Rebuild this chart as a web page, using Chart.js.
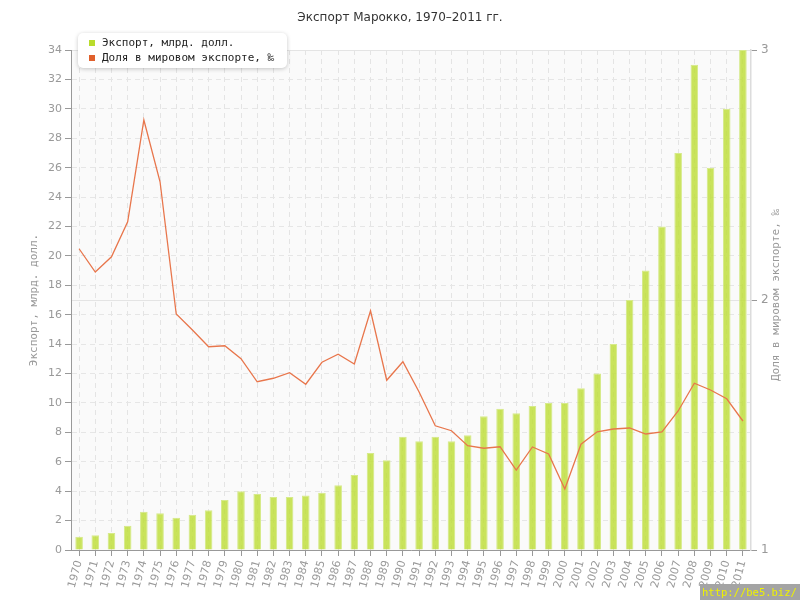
<!DOCTYPE html>
<html>
<head>
<meta charset="utf-8">
<script src="https://cdn.jsdelivr.net/npm/chart.js@4/dist/chart.umd.min.js"></script>
<style>
  html, body { margin: 0; padding: 0; background: #fff; }
  #wrap { width: 800px; height: 600px; }
</style>
</head>
<body>
<div id="wrap"><canvas id="exportChart"></canvas></div>
<script>
// Years on the x axis
const years = ["1970","1971","1972","1973","1974","1975","1976","1977","1978","1979",
  "1980","1981","1982","1983","1984","1985","1986","1987","1988","1989",
  "1990","1991","1992","1993","1994","1995","1996","1997","1998","1999",
  "2000","2001","2002","2003","2004","2005","2006","2007","2008","2009",
  "2010","2011"];

// Export, bn USD (left axis)
const exportValues = [0.9, 1.0, 1.15, 1.65, 2.6, 2.5, 2.2, 2.4, 2.7, 3.4,
  4.0, 3.8, 3.6, 3.6, 3.7, 3.9, 4.4, 5.1, 6.6, 6.1,
  7.7, 7.4, 7.7, 7.4, 7.8, 9.1, 9.6, 9.3, 9.8, 10.0,
  10.0, 11.0, 12.0, 14.0, 17.0, 19.0, 22.0, 27.0, 33.0, 26.0,
  30.0, 34.0];

// Share of world export, per mille (right axis)
const worldShare = [2.205, 2.112, 2.173, 2.313, 2.72, 2.473, 1.944, 1.88, 1.813, 1.817,
  1.765, 1.673, 1.687, 1.709, 1.663, 1.751, 1.783, 1.744, 1.957, 1.679,
  1.753, 1.632, 1.497, 1.477, 1.417, 1.407, 1.413, 1.32, 1.412, 1.384,
  1.244, 1.423, 1.473, 1.484, 1.488, 1.464, 1.472, 1.556, 1.667, 1.64,
  1.605, 1.516];

const titleText = "Экспорт Марокко, 1970–2011 гг.";
const exportLabel = "Экспорт, млрд. долл.";
const shareLabel = "Доля в мировом экспорте, ‰";

const greenFill = "rgba(192, 222, 62, 0.85)";
const greenEdge = "#d6ea8a";
const orangeLine = "#e8764c";

Chart.defaults.font.family = "'DejaVu Sans', Verdana, sans-serif";
Chart.defaults.font.size = 11;
Chart.defaults.color = "#999";

// light grey plot area
const plotBackground = {
  id: "plotBackground",
  beforeDraw(chart) {
    const { ctx, chartArea } = chart;
    ctx.save();
    ctx.fillStyle = "#fafafa";
    ctx.fillRect(chartArea.left, chartArea.top, chartArea.right - chartArea.left, chartArea.bottom - chartArea.top);
    ctx.restore();
  }
};

// floating legend box, right axis title (reads upwards) + site watermark
const overlay = {
  id: "overlay",
  afterDraw(chart) {
    const ctx = chart.ctx;
    const area = chart.chartArea;

    ctx.save();
    ctx.shadowColor = "rgba(0,0,0,0.22)";
    ctx.shadowBlur = 4;
    ctx.shadowOffsetY = 1;
    ctx.fillStyle = "#fff";
    ctx.beginPath();
    ctx.roundRect(78, 33, 209, 35, 5);
    ctx.fill();
    ctx.restore();

    ctx.save();
    const items = [
      { text: exportLabel, color: "#b9dc2c" },
      { text: shareLabel, color: "#e0602c" }
    ];
    ctx.font = "11px 'DejaVu Sans Mono', monospace";
    ctx.textBaseline = "middle";
    items.forEach((it, i) => {
      const y = 43 + i * 15;
      ctx.fillStyle = it.color;
      ctx.fillRect(89, y - 3, 6, 6);
      ctx.fillStyle = "#222";
      ctx.fillText(it.text, 102, y);
    });
    ctx.restore();

    ctx.save();
    ctx.translate(776, (area.top + area.bottom) / 2 - 5);
    ctx.rotate(-Math.PI / 2);
    ctx.fillStyle = "#999";
    ctx.font = "11px 'DejaVu Sans Mono', monospace";
    ctx.textAlign = "center";
    ctx.textBaseline = "middle";
    ctx.fillText(shareLabel, 0, 0);
    ctx.restore();

    ctx.save();
    ctx.fillStyle = "#a4a4a4";
    ctx.fillRect(700, 584, 100, 16);
    ctx.fillStyle = "#eef200";
    ctx.font = "10.5px 'DejaVu Sans Mono', monospace";
    ctx.textBaseline = "middle";
    ctx.fillText("http://be5.biz/", 702, 593);
    ctx.restore();
  }
};

new Chart(document.getElementById("exportChart").getContext("2d"), {
  type: "bar",
  data: {
    labels: years,
    datasets: [
      {
        type: "line",
        label: shareLabel,
        data: worldShare,
        yAxisID: "y2",
        borderColor: orangeLine,
        borderWidth: 1.3,
        pointRadius: 0,
        tension: 0,
        fill: false,
        order: 0
      },
      {
        label: exportLabel,
        data: exportValues,
        yAxisID: "y",
        backgroundColor: greenFill,
        borderColor: greenEdge,
        borderWidth: 1,
        categoryPercentage: 1,
        barPercentage: 0.47,
        order: 1
      }
    ]
  },
  options: {
    responsive: true,
    maintainAspectRatio: false,
    animation: false,
    layout: { padding: 0 },
    plugins: {
      legend: { display: false },
      tooltip: { enabled: false },
      title: {
        display: true,
        text: titleText,
        color: "#333",
        font: { size: 12, weight: "normal" },
        padding: { top: 11, bottom: 24.6 }
      }
    },
    scales: {
      x: {
        z: 1,
        afterFit(scale) { scale.height = 50; },
        grid: {
          offset: false,
          color: "rgba(225,225,225,0.9)",
          lineWidth: 1,
          tickLength: 6,
          tickColor: "#999"
        },
        border: { color: "#999", width: 1, dash: [5, 4] },
        ticks: {
          autoSkip: false,
          minRotation: 75,
          maxRotation: 75,
          padding: 3,
          color: "#999",
          font: { size: 11 }
        }
      },
      y: {
        position: "left",
        min: 0,
        max: 34,
        afterFit(scale) { scale.width = 71; },
        ticks: { stepSize: 2, padding: 3, color: "#999", font: { size: 11 } },
        grid: { color: "#e6e6e6", tickLength: 6, tickColor: "#999" },
        border: { color: "#999", width: 1, dash: [5, 4] },
        title: {
          display: true,
          text: exportLabel,
          color: "#999",
          font: { family: "'DejaVu Sans Mono', monospace", size: 11 },
          padding: { top: 28, bottom: 0 }
        }
      },
      y2: {
        position: "right",
        min: 1,
        max: 3,
        afterFit(scale) { scale.width = 49; },
        ticks: { stepSize: 1, padding: 4, color: "#999", font: { size: 12 } },
        grid: { color: "#e4e4e4", tickLength: 6, tickColor: "#999" },
        border: { color: "#dcdcdc", width: 1.5 }
      }
    }
  },
  plugins: [plotBackground, overlay]
});
</script>
</body>
</html>
